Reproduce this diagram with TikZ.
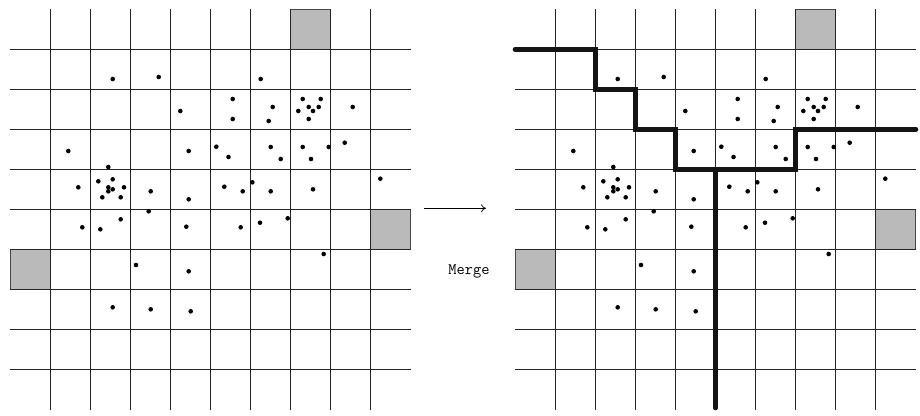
\documentclass[tikz,border=0pt]{standalone}
\usetikzlibrary{arrows.meta}
\begin{document}
\begin{tikzpicture}[x=1pt,y=-1pt,
  gridline/.style={draw=black!85,line width=0.9pt},
  cellbox/.style={fill=black!27,draw=black!72,line width=1pt},
  dotmark/.style={fill=black},
  cutline/.style={draw=black!92,line width=4.6pt,line cap=round,line join=miter},
  flowarrow/.style={draw=black,line width=0.7pt,-{To[length=5pt,width=8pt]}},
  mergelabel/.style={font=\ttfamily\fontsize{16}{16}\selectfont,inner sep=0pt,anchor=base}]
\useasboundingbox (0,0) rectangle (920,415);
\foreach \ox in {0,505}{
  \begin{scope}[shift={(\ox,0)}]
    % grey border cells
    \draw[cellbox] (290.5,9.3) rectangle (330.5,49.3);
    \draw[cellbox] (370.5,209.3) rectangle (410.5,249.3);
    \draw[cellbox] (10.5,249.3) rectangle (50.5,289.3);
    % grid
    \foreach \k in {0,...,8}{
      \draw[gridline] (50.5+40*\k,9) -- (50.5+40*\k,410);
      \draw[gridline] (10,49.3+40*\k) -- (411,49.3+40*\k);
    }
    % dots
    \foreach \px/\py in {112.7/79,158.7/77,180.3/111,68.3/151,188.7/151,216.3/146.7,
      228.5/157,108.3/167,78.3/187.3,98.3/181.3,112.7/179.3,108.3/187.3,112.7/189.3,
      108.3/191.3,124/187.3,102.3/197.3,120.7/197.3,150.7/191.3,188.7/199.3,224.3/186.7,
      260.7/79,232.7/99,272.7/107,302.7/99,320.7/99,308.7/107,318.7/107,298.3/111,313/111,
      352.7/107,232.7/119,268.7/121,308.7/119,270.7/147,280.7/159,302.7/147,328.7/147,
      344.7/142.7,311/159,242.7/191.3,252.3/182.3,270.7/191.3,313/189.3,380.3/178.7,
      148.7/211.3,82.3/227.3,100.3/229.3,120.7/219.3,186.3/226.7,136/265,188.7/271.3,
      112.7/307.3,150.7/309.3,190.7/311.3,240.7/227.3,260/222.7,287.7/218.3,323.7/254}{
      \fill[dotmark] (\px,\py) circle (2.3);
    }
  \end{scope}
}
% merge boundary on the right grid
\draw[cutline] (515,49.3) -- (595.5,49.3) -- (595.5,89.3) -- (635.5,89.3) -- (635.5,129.3)
  -- (675.5,129.3) -- (675.5,169.3) -- (795.5,169.3) -- (795.5,129.3) -- (916,129.3);
\draw[cutline] (715.5,169.3) -- (715.5,408);
% arrow and label
\coordinate (arrowstart) at (424,208.3);
\coordinate (arrowend) at (486,208.3);
\draw[flowarrow] (arrowstart) -- (arrowend);
\node[mergelabel] (merge) at (469,274) {Merge};
\end{tikzpicture}
\end{document}
